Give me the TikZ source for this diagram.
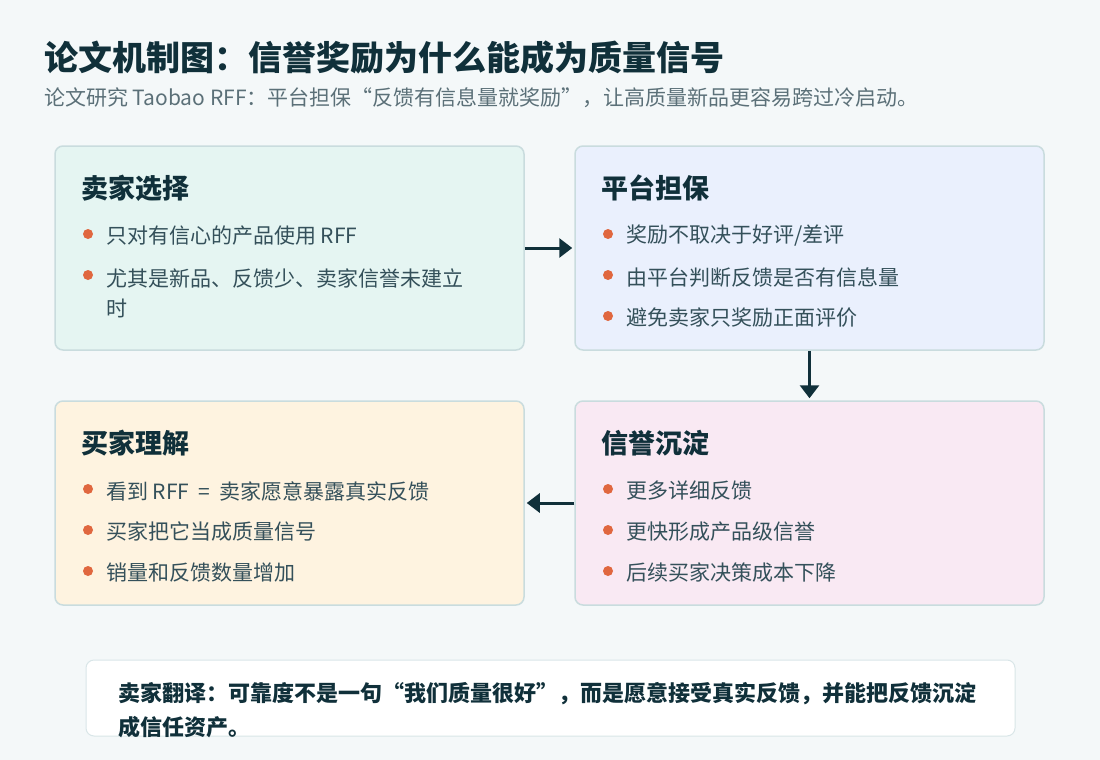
\documentclass[tikz,border=0pt]{standalone}
\usepackage{fontspec}
\setmainfont{Noto Sans CJK SC}
\usetikzlibrary{arrows.meta}

\definecolor{fond}{HTML}{F4F8F9}
\definecolor{bord}{HTML}{C9DCDE}
\definecolor{encre}{HTML}{10303A}
\definecolor{gris}{HTML}{34505A}
\definecolor{sousgris}{HTML}{5B7078}
\definecolor{puceorange}{HTML}{E0673F}
\definecolor{vert}{HTML}{E5F5F2}
\definecolor{bleu}{HTML}{EAF0FD}
\definecolor{jaune}{HTML}{FEF3E0}
\definecolor{rose}{HTML}{F9E9F3}

\begin{document}
\begin{tikzpicture}[x=1pt,y=-1pt,
  boite/.style={draw=bord,line width=1.5pt,rounded corners=8pt,
    minimum width=469pt,minimum height=204pt,inner sep=0pt},
  titre/.style={anchor=west,inner sep=0pt,text=encre,
    font=\fontsize{27}{30}\selectfont\bfseries},
  puce/.style={circle,fill=puceorange,inner sep=0pt,minimum size=10pt},
  texte/.style={anchor=west,inner sep=0pt,text=gris,align=left,
    font=\fontsize{21}{30}\selectfont},
  fleche/.style={-{Triangle[length=13pt,width=19pt]},line width=3pt,
    draw=encre,shorten >=2pt}]

\useasboundingbox[fill=fond] (0,0) rectangle (1100,760);

% en-tete
\node[anchor=west,inner sep=0pt,text=encre,
  font=\fontsize{34}{38}\selectfont\bfseries]
(T)
at (44,58)
{论文机制图：信誉奖励为什么能成为质量信号};

\node[anchor=west,inner sep=0pt,text=sousgris,
  font=\fontsize{21}{24}\selectfont]
(ST)
at (44,98)
{论文研究 Taobao RFF：平台担保“反馈有信息量就奖励”，让高质量新品更容易跨过冷启动。};

% boites
\node[boite,fill=vert]
(S)
at (289.5,248)
{};

\node[boite,fill=bleu]
(P)
at (809.5,248)
{};

\node[boite,fill=jaune]
(A)
at (289.5,503)
{};

\node[boite,fill=rose]
(R)
at (809.5,503)
{};

% vendeur
\node[titre] (ST1) at (81,188) {卖家选择};
\node[puce] (S1p) at (88,234) {};
\node[texte] (S1) at (106,236) {只对有信心的产品使用 RFF};
\node[puce] (S2p) at (88,275) {};
\node[texte] (S2) at (106,293) {尤其是新品、反馈少、卖家信誉未建立\\时};

% plateforme
\node[titre] (PT1) at (601,188) {平台担保};
\node[puce] (P1p) at (608,234) {};
\node[texte] (P1) at (626,236) {奖励不取决于好评/差评};
\node[puce] (P2p) at (608,275) {};
\node[texte] (P2) at (626,277) {由平台判断反馈是否有信息量};
\node[puce] (P3p) at (608,316) {};
\node[texte] (P3) at (626,318) {避免卖家只奖励正面评价};

% reputation
\node[titre] (RT1) at (601,443) {信誉沉淀};
\node[puce] (R1p) at (608,489) {};
\node[texte] (R1) at (626,491) {更多详细反馈};
\node[puce] (R2p) at (608,530) {};
\node[texte] (R2) at (626,532) {更快形成产品级信誉};
\node[puce] (R3p) at (608,571) {};
\node[texte] (R3) at (626,573) {后续买家决策成本下降};

% acheteur
\node[titre] (AT1) at (81,443) {买家理解};
\node[puce] (A1p) at (88,489) {};
\node[texte] (A1) at (106,491) {看到 RFF \ = \ 卖家愿意暴露真实反馈};
\node[puce] (A2p) at (88,530) {};
\node[texte] (A2) at (106,532) {买家把它当成质量信号};
\node[puce] (A3p) at (88,571) {};
\node[texte] (A3) at (106,573) {销量和反馈数量增加};

\draw[fleche] (S) -- (P);
\draw[fleche] (P) -- (R);
\draw[fleche] (R) -- (A);

% traduction
\node[draw=bord!70,fill=white,line width=1pt,rounded corners=8pt,
  minimum width=929pt,minimum height=76pt,inner sep=0pt]
(N)
at (550.5,698)
{};

\node[anchor=west,inner sep=0pt,text=encre,align=left,
  font=\fontsize{22}{34}\selectfont\bfseries]
(NT)
at (118,710)
{卖家翻译：可靠度不是一句“我们质量很好”，而是愿意接受真实反馈，并能把反馈沉淀\\成信任资产。};

\end{tikzpicture}
\end{document}
